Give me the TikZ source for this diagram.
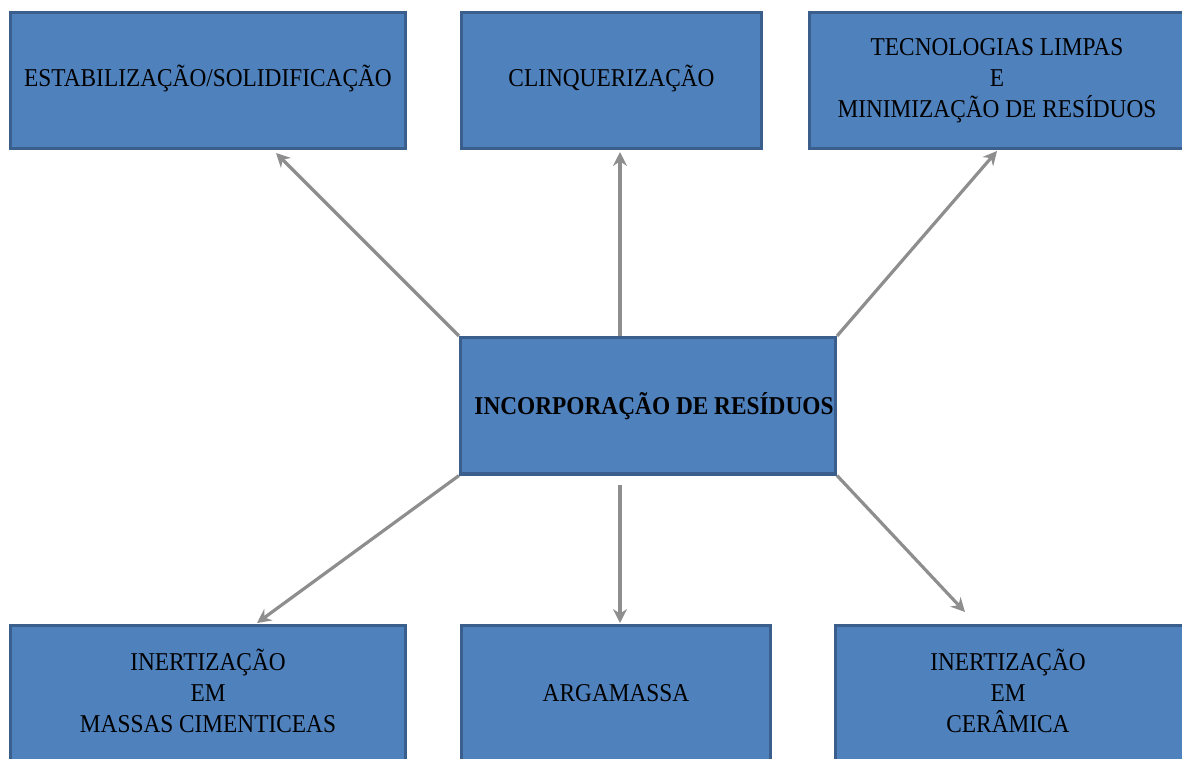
\documentclass[tikz,border=0pt]{standalone}
\usepackage{fontspec}
\usepackage{graphicx}
\setmainfont{Liberation Serif}
\usetikzlibrary{arrows.meta}

\definecolor{boxfill}{HTML}{4F81BD}
\definecolor{boxline}{HTML}{3A5F8C}
\definecolor{arrowgray}{HTML}{8E8E8E}

% text set slightly taller than wide, as in the printed boxes
\newcommand{\boxtext}[1]{\scalebox{1}[1.1]{\fontsize{17.5pt}{21pt}\selectfont\begin{tabular}{@{}c@{}}#1\end{tabular}}}

\tikzset{
  box/.style={draw=boxline, fill=boxfill, line width=2.3pt, inner sep=0pt,
              minimum height=102pt, text=black, align=center},
  arr/.style={draw=arrowgray, line width=2.4pt,
              -{Stealth[length=10.5pt, width=10.5pt, inset=3.5pt]}}
}

\begin{document}
\begin{tikzpicture}[x=0.75pt, y=-0.75pt]
  \useasboundingbox (0,0) rectangle (1182,758);

  % top row
  \node[box, minimum width=296.25pt] (b1) at (208,80.5)
    {\boxtext{ESTABILIZAÇÃO/SOLIDIFICAÇÃO}};
  \node[box, minimum width=225pt] (b2) at (611.5,80.5)
    {\boxtext{CLINQUERIZAÇÃO}};
  \node[box, minimum width=286.9pt] (b3) at (1000.75,80.5) {};
  \node[inner sep=0pt] (t3) at (997,80.5)
    {\boxtext{TECNOLOGIAS LIMPAS\\E\\MINIMIZAÇÃO DE RESÍDUOS}};

  % centre
  \node[box, minimum width=281.25pt, minimum height=102.4pt] (c) at (648,405.75) {};
  \node[inner sep=0pt] (ct) at (654,408)
    {\boxtext{\bfseries INCORPORAÇÃO DE RESÍDUOS}};

  % bottom row
  \node[box, minimum width=296.25pt, minimum height=104.6pt] (b4) at (208,695.25)
    {\boxtext{INERTIZAÇÃO\\EM\\MASSAS CIMENTICEAS}};
  \node[box, minimum width=231.75pt, minimum height=104.6pt] (b5) at (616,695.25)
    {\boxtext{ARGAMASSA}};
  \node[box, minimum width=267.4pt, minimum height=104.6pt] (b6) at (1013.75,695.25) {};
  \node[inner sep=0pt] (t6) at (1008,695.25)
    {\boxtext{INERTIZAÇÃO\\EM\\CERÂMICA}};

  % arrow ends
  \coordinate (e1) at (276,153);
  \coordinate (e2) at (620,152);
  \coordinate (e3) at (997,151);
  \coordinate (e4) at (257,623);
  \coordinate (s5) at (620,485);
  \coordinate (e5) at (620,623);
  \coordinate (e6) at (965,612);

  % connectors
  \draw[arr] (c.north west) -- (e1);
  \draw[arr] (c.north -| e2) -- (e2);
  \draw[arr] (c.north east) -- (e3);
  \draw[arr] (c.south west) -- (e4);
  \draw[arr] (s5) -- (e5);
  \draw[arr] (c.south east) -- (e6);
\end{tikzpicture}
\end{document}
